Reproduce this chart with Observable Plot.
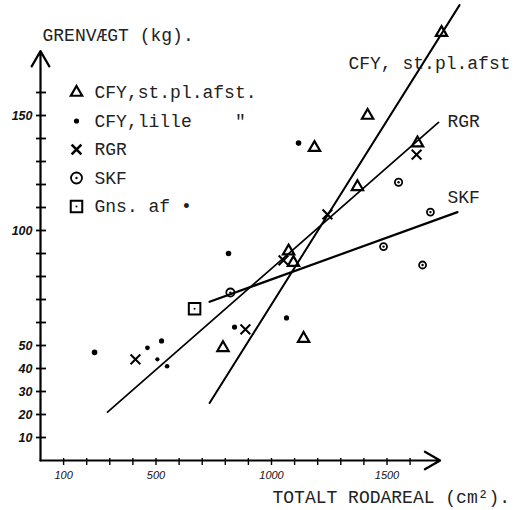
<!DOCTYPE html>
<html><head><meta charset="utf-8">
<script src="https://cdn.jsdelivr.net/npm/d3@7"></script>
<script src="https://cdn.jsdelivr.net/npm/@observablehq/plot@0.6"></script>
<style>body{margin:0;background:#fff;}</style>
</head><body><div id="chart"></div>
<script>
// CFY, st.pl.afst. (triangles)
const cfyStX = [1736, 1416, 1186, 1372, 1632, 1074, 1095, 790, 1139];
const cfyStY = [186, 150, 136, 119, 138, 91, 86, 49, 53];
// CFY, lille (dots)
const cfyLilleX = [234, 463, 524, 506, 548, 814, 840, 1117, 1065];
const cfyLilleY = [47, 49, 52, 44, 41, 90, 58, 138, 62];
const cfyLilleSize = [3.5, 2.6, 3, 2, 2.4, 3.5, 3, 3.5, 3];
// RGR (crosses)
const rgrX = [411, 887, 1052, 1242, 1628];
const rgrY = [44, 57, 87, 107, 133];
// SKF (circled dots)
const skfX = [822, 1550, 1688, 1485, 1654];
const skfY = [73, 121, 108, 93, 85];
const skfSize = [7.5, 6, 5.5, 5.5, 5.5];
// Gns. af (square)
const gnsX = [667];
const gnsY = [66];
// fitted lines (end points)
const cfyLineX = [732, 1814], cfyLineY = [25, 198];
const rgrLineX = [290, 1723], rgrLineY = [21, 147];
const skfLineX = [732, 1805], skfLineY = [69, 108];
// axes
const xTicks = d3.range(100, 1700, 100);
const xTickLabels = [100, 500, 1000, 1500];
const yTicks = d3.range(10, 170, 10);
const yTickLabels = [10, 20, 30, 40, 50, 100, 150];
const xAxisEnd = 1730, yAxisEnd = 178;
const legendLabels = ["CFY,st.pl.afst.", "CFY,lille    \"", "RGR", "SKF", "Gns. af \u2022"];
const titleY = "GRENVÆGT (kg).";
const titleX = "TOTALT RODAREAL (cm²).";
const seriesLabels = ["CFY, st.pl.afst", "RGR", "SKF"];

const pts = (xs, ys, extra) => xs.map((x, i) => ({x, y: ys[i], s: extra ? extra[i] : null}));
const cfySt = pts(cfyStX, cfyStY);
const cfyLille = pts(cfyLilleX, cfyLilleY, cfyLilleSize);
const rgr = pts(rgrX, rgrY);
const skf = pts(skfX, skfY, skfSize);
const gns = pts(gnsX, gnsY);
const cfyLine = pts(cfyLineX, cfyLineY);
const rgrLine = pts(rgrLineX, rgrLineY);
const skfLine = pts(skfLineX, skfLineY);

const W = 516, H = 510, mL = 40, mB = 50;
const pxPerX = 0.231, pxPerY = 2.3;
const xMax = (W - mL) / pxPerX, yMax = (H - mB) / pxPerY;

const mono = "Liberation Mono, Courier New, monospace";
const hand = {fontFamily: "Liberation Sans, sans-serif", fontStyle: "italic", fill: "#111"};
const typed = {fontFamily: mono, fontSize: 18, fill: "#222", lineAnchor: "middle"};

const legendMarks = [];
const lx = 36, ly0 = 92, lstep = 28.5;
legendLabels.forEach((lab, i) => {
  const dy = ly0 + i * lstep;
  const base = {frameAnchor: "top-left", dx: lx, dy};
  if (i === 0) legendMarks.push(Plot.dot([0], {...base, symbol: "triangle", r: 4.2, stroke: "black", strokeWidth: 2.2, fill: "none"}));
  if (i === 1) legendMarks.push(Plot.dot([0], {...base, r: 2.6, fill: "black", stroke: "none"}));
  if (i === 2) legendMarks.push(Plot.dot([0], {...base, symbol: "times", r: 4.5, stroke: "black", strokeWidth: 2.6}));
  if (i === 3) {
    legendMarks.push(Plot.dot([0], {...base, r: 5.5, stroke: "black", strokeWidth: 1.8, fill: "none"}));
    legendMarks.push(Plot.dot([0], {...base, r: 1.2, fill: "black", stroke: "none"}));
  }
  if (i === 4) {
    legendMarks.push(Plot.dot([0], {...base, symbol: "square", r: 6.5, stroke: "black", strokeWidth: 2, fill: "none"}));
    legendMarks.push(Plot.dot([0], {...base, r: 1, fill: "black", stroke: "none"}));
  }
  legendMarks.push(Plot.text([lab], {frameAnchor: "top-left", dx: lx + 18, dy, text: d => d, textAnchor: "start", ...typed}));
});

const chart = Plot.plot({
  width: W, height: H,
  marginLeft: mL, marginRight: 0, marginTop: 0, marginBottom: mB,
  x: {domain: [0, xMax], axis: null},
  y: {domain: [0, yMax], axis: null},
  style: {background: "#fff", color: "black", fontFamily: mono, overflow: "visible"},
  marks: [
    // axes
    Plot.arrow([{x1: 0, y1: 0, x2: 0, y2: yAxisEnd}], {x1: "x1", y1: "y1", x2: "x2", y2: "y2", headLength: 12, strokeWidth: 2.2, stroke: "black"}),
    Plot.arrow([{x1: 0, y1: 0, x2: xAxisEnd, y2: 0}], {x1: "x1", y1: "y1", x2: "x2", y2: "y2", headLength: 12, strokeWidth: 2.2, stroke: "black"}),
    Plot.ruleY(yTicks, {y: d => d, x1: -4 / pxPerX, x2: 6 / pxPerX, stroke: "black", strokeWidth: 1.8}),
    Plot.ruleX(xTicks, {x: d => d, y1: -5 / pxPerY, y2: 2 / pxPerY, stroke: "black", strokeWidth: 1.4}),
    Plot.text(yTickLabels, {x: 0, y: d => d, text: d => String(d), dx: -8, textAnchor: "end", fontSize: 12.5, fontWeight: 600, ...hand}),
    Plot.text(xTickLabels, {x: d => d, y: 0, text: d => String(d), dy: 15, fontSize: 11, ...hand}),
    // lines
    Plot.line(cfyLine, {x: "x", y: "y", stroke: "black", strokeWidth: 2}),
    Plot.line(rgrLine, {x: "x", y: "y", stroke: "black", strokeWidth: 1.7}),
    Plot.line(skfLine, {x: "x", y: "y", stroke: "black", strokeWidth: 2.2}),
    // points
    Plot.dot(cfySt, {x: "x", y: "y", symbol: "triangle", r: 4.2, stroke: "black", strokeWidth: 2.2, fill: "none"}),
    Plot.dot(cfyLille, {x: "x", y: "y", r: "s", fill: "black", stroke: "none"}),
    Plot.dot(rgr, {x: "x", y: "y", symbol: "times", r: 4.5, stroke: "black", strokeWidth: 2}),
    Plot.dot(skf, {x: "x", y: "y", r: "s", stroke: "black", strokeWidth: 1.8, fill: "none"}),
    Plot.dot(skf, {x: "x", y: "y", r: 1.2, fill: "black", stroke: "none"}),
    Plot.dot(gns, {x: "x", y: "y", symbol: "square", r: 6.5, stroke: "black", strokeWidth: 2, fill: "none"}),
    Plot.dot(gns, {x: "x", y: "y", r: 1, fill: "black", stroke: "none"}),
    // series labels
    Plot.text([seriesLabels[0]], {frameAnchor: "top-right", dx: -6, dy: 63, text: d => d, textAnchor: "end", ...typed}),
    Plot.text([rgrLine[1]], {x: "x", y: "y", text: () => seriesLabels[1], dx: 9, dy: -1, textAnchor: "start", ...typed}),
    Plot.text([skfLine[1]], {x: "x", y: "y", text: () => seriesLabels[2], dx: -10, dy: -15, textAnchor: "start", ...typed}),
    // axis titles
    Plot.text([{x: 0, y: yAxisEnd}], {x: "x", y: "y", text: () => titleY, dx: 2, dy: -16, textAnchor: "start", ...typed}),
    Plot.text([{x: xAxisEnd, y: 0}], {x: "x", y: "y", text: () => titleX, dx: 70, dy: 37, textAnchor: "end", ...typed}),
    ...legendMarks
  ]
});
document.getElementById("chart").appendChild(chart);
</script>
</body></html>
